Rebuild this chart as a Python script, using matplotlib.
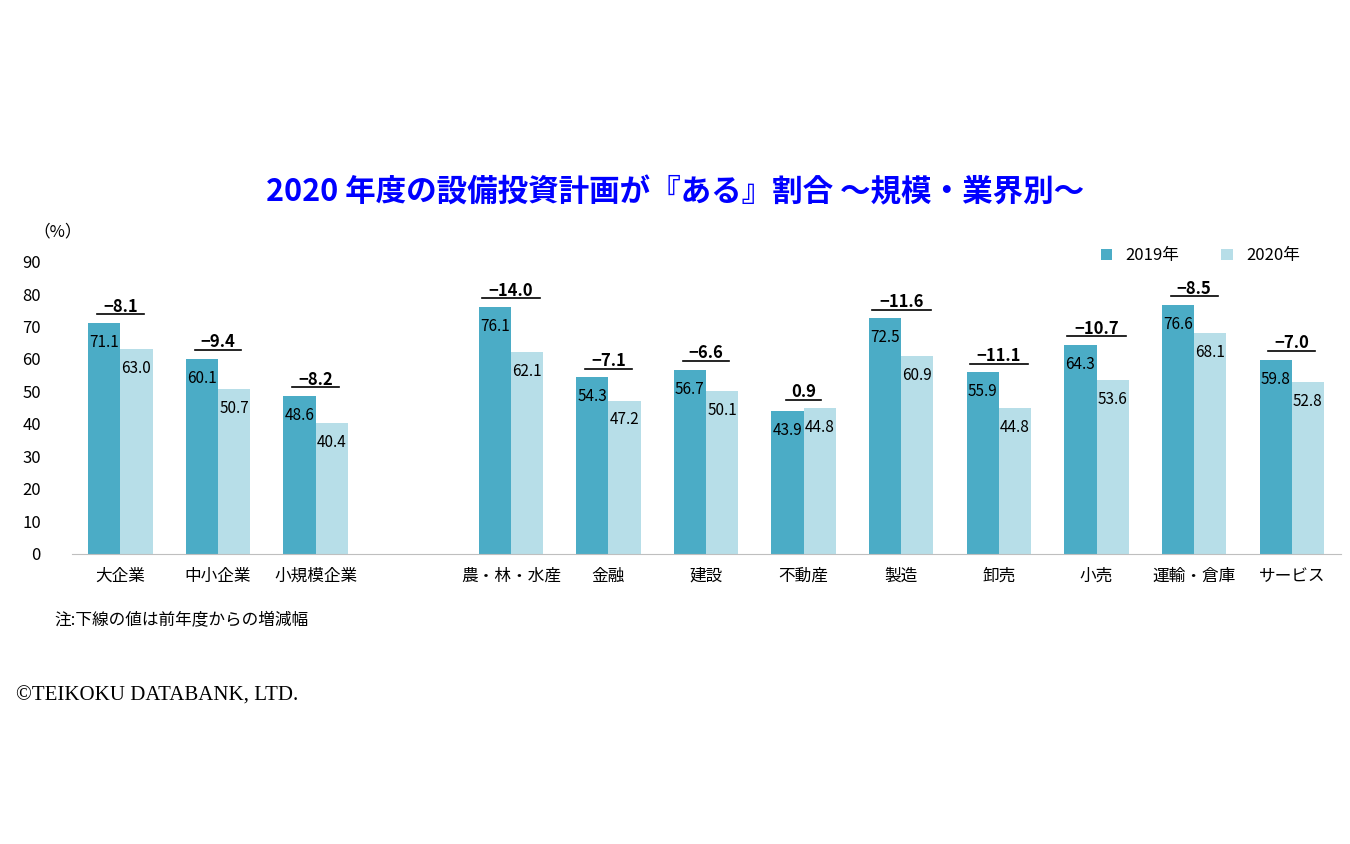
import matplotlib
matplotlib.use("Agg")
import matplotlib.pyplot as plt
import numpy as np

plt.rcParams["font.family"] = "Noto Sans CJK JP"

categories = ["大企業", "中小企業", "小規模企業", "", "農・林・水産", "金融", "建設", "不動産",
              "製造", "卸売", "小売", "運輸・倉庫", "サービス"]
y2019 = [71.1, 60.1, 48.6, None, 76.1, 54.3, 56.7, 43.9, 72.5, 55.9, 64.3, 76.6, 59.8]
y2020 = [63.0, 50.7, 40.4, None, 62.1, 47.2, 50.1, 44.8, 60.9, 44.8, 53.6, 68.1, 52.8]
diffs = ["−8.1", "−9.4", "−8.2", "", "−14.0", "−7.1", "−6.6", "0.9",
         "−11.6", "−11.1", "−10.7", "−8.5", "−7.0"]

c19 = "#4BACC6"
c20 = "#B7DEE8"

fig = plt.figure(figsize=(13.5, 8.44), dpi=100)
ax = fig.add_axes([0.053, 0.344, 0.94, 0.346])
w = 0.33
idx = [i for i, v in enumerate(y2019) if v is not None]
x = np.array(idx)
a = [y2019[i] for i in idx]
b = [y2020[i] for i in idx]
ax.bar(x - w / 2, a, w, color=c19, label="2019年")
ax.bar(x + w / 2, b, w, color=c20, label="2020年")
for i in idx:
    ax.text(i - w / 2, y2019[i] - 6, f"{y2019[i]:.1f}", ha="center", va="center", fontsize=11)
    ax.text(i + w / 2, y2020[i] - 6, f"{y2020[i]:.1f}", ha="center", va="center", fontsize=11)
    top = max(y2019[i], y2020[i])
    ax.text(i, top + 5, diffs[i], ha="center", va="center", fontsize=12, fontweight="bold")
    # underline under the change value
    uw = 0.06 * len(diffs[i])
    ax.plot([i - uw, i + uw], [top + 2.7, top + 2.7], color="black", lw=1.2, clip_on=False)

ax.set_xlim(-0.5, 12.5)
ax.set_ylim(0, 90)
ax.set_yticks(range(0, 91, 10))
ax.set_xticks(range(len(categories)))
ax.set_xticklabels(categories, fontsize=12)
ax.tick_params(axis="both", length=0, labelsize=12)
ax.tick_params(axis="x", pad=10)
ax.tick_params(axis="y", pad=22)
for s in ["top", "right", "left"]:
    ax.spines[s].set_visible(False)
ax.spines["bottom"].set_color("#BFBFBF")
ax.legend(loc="upper right", bbox_to_anchor=(0.98, 1.1), ncol=2, frameon=False,
          fontsize=12, handlelength=0.7, handleheight=0.7, columnspacing=2.5)

fig.text(0.5, 0.772, "2020 年度の設備投資計画が『ある』割合 ～規模・業界別～", ha="center",
         va="center", color="#0000FF", fontsize=22, fontweight="bold")
fig.text(0.025, 0.725, "（%）", fontsize=12, va="center")
fig.text(0.04, 0.265, "注:下線の値は前年度からの増減幅", fontsize=12, va="center")
fig.text(0.012, 0.175, "©TEIKOKU DATABANK, LTD.", fontsize=15, va="center",
         family="Liberation Serif")

fig.savefig("out.png", dpi=100)
